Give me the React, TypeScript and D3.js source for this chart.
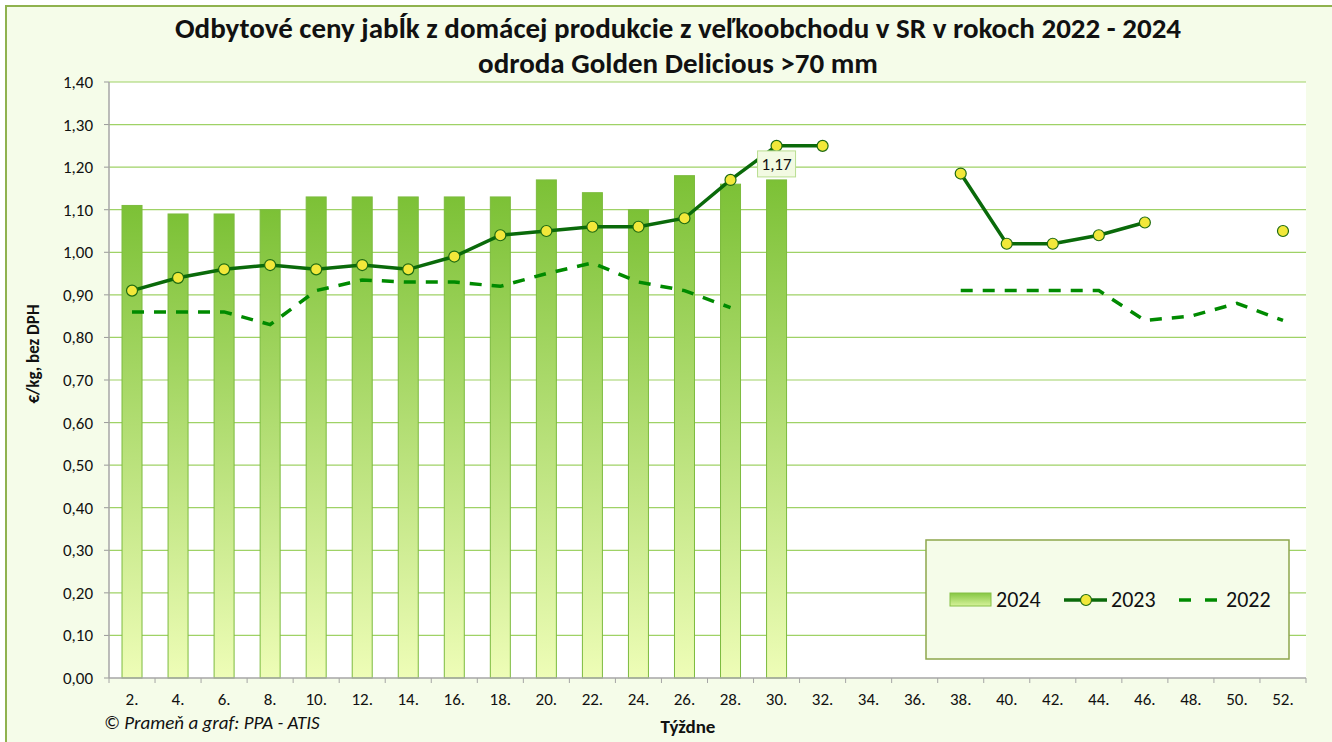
import React from 'react'
import * as d3 from 'd3'

const weeks = d3.range(2, 53, 2).map((w) => `${w}.`)

// 2024 – stĺpce (týždne 2. – 30.)
const values2024: (number | null)[] = [
  1.11, 1.09, 1.09, 1.1, 1.13, 1.13, 1.13, 1.13, 1.13, 1.17, 1.14, 1.1, 1.18, 1.16, 1.17,
  null, null, null, null, null, null, null, null, null, null, null,
]

// 2023 – plná čiara so značkami
const values2023: (number | null)[] = [
  0.91, 0.94, 0.96, 0.97, 0.96, 0.97, 0.96, 0.99, 1.04, 1.05, 1.06, 1.06, 1.08, 1.17, 1.25,
  1.25, null, null, 1.185, 1.02, 1.02, 1.04, 1.07, null, null, 1.05,
]

// 2022 – prerušovaná čiara
const values2022: (number | null)[] = [
  0.86, 0.86, 0.86, 0.83, 0.91, 0.935, 0.93, 0.93, 0.92, 0.95, 0.975, 0.93, 0.91, 0.87, null,
  null, null, null, 0.91, 0.91, 0.91, 0.91, 0.84, 0.85, 0.88, 0.84,
]

const yTicks = d3.range(0, 1.401, 0.1)
const labelWeek = '30.'
const labelValue = 1.17

const W = 1332
const H = 742
const plot = { left: 109, right: 1306, top: 82, bottom: 678 }
const font = "Calibri, Carlito, 'Liberation Sans', Arial, sans-serif"
const fmt = (v: number) => v.toFixed(2).replace('.', ',')

export default function App() {
  const x = d3.scaleBand<string>().domain(weeks).range([plot.left, plot.right]).padding(0)
  const y = d3.scaleLinear().domain([0, 1.4]).range([plot.bottom, plot.top])
  const bw = x.bandwidth()
  const cx = (w: string) => (x(w) as number) + bw / 2
  const barW = 20

  const line = d3
    .line<number | null>()
    .defined((d) => d != null)
    .x((_, i) => cx(weeks[i]))
    .y((d) => y(d as number))

  return (
    <svg
      width={W}
      height={H}
      style={{ position: 'absolute', left: 0, top: 0, fontFamily: font }}
    >
      <defs>
        <linearGradient id="barGrad" x1="0" y1="0" x2="0" y2="1">
          <stop offset="0%" stopColor="#7CC136" />
          <stop offset="100%" stopColor="#EEFDB7" />
        </linearGradient>
        <linearGradient id="legGrad" x1="0" y1="0" x2="0" y2="1">
          <stop offset="0%" stopColor="#86C743" />
          <stop offset="100%" stopColor="#D6F29A" />
        </linearGradient>
      </defs>

      <rect x={0} y={0} width={W} height={H} fill="#fff" />
      <rect x={6} y={6} width={W + 20} height={H + 20} fill="#F5FCE9" stroke="#8FB24E" strokeWidth={2} />

      <text x={678} y={38} textAnchor="middle" fontSize={29} fontWeight="bold" fill="#111">
        Odbytové ceny jabĺk z domácej produkcie z veľkoobchodu v SR v rokoch 2022 - 2024
      </text>
      <text x={678} y={73} textAnchor="middle" fontSize={29} fontWeight="bold" fill="#111">
        odroda Golden Delicious &gt;70 mm
      </text>

      <rect
        x={plot.left}
        y={plot.top}
        width={plot.right - plot.left}
        height={plot.bottom - plot.top}
        fill="#fff"
      />

      {yTicks.map((t) => (
        <g key={t}>
          {t > 0 && (
            <line x1={plot.left} x2={plot.right} y1={y(t)} y2={y(t)} stroke="#9FD266" strokeWidth={1.2} />
          )}
          <line x1={plot.left - 5} x2={plot.left} y1={y(t)} y2={y(t)} stroke="#999" />
          <text x={93} y={y(t) + 6} textAnchor="end" fontSize={17} fill="#111">
            {fmt(t)}
          </text>
        </g>
      ))}

      {values2024.map((v, i) =>
        v == null ? null : (
          <rect
            key={i}
            x={cx(weeks[i]) - barW / 2}
            y={y(v)}
            width={barW}
            height={y(0) - y(v)}
            fill="url(#barGrad)"
            stroke="#7CBB3E"
            strokeWidth={1}
          />
        )
      )}

      <path
        d={line(values2022) || ''}
        fill="none"
        stroke="#008A00"
        strokeWidth={3.5}
        strokeDasharray="12,10"
      />
      <path d={line(values2023) || ''} fill="none" stroke="#0A6A0A" strokeWidth={3.5} />
      {values2023.map((v, i) =>
        v == null ? null : (
          <circle key={i} cx={cx(weeks[i])} cy={y(v)} r={5.5} fill="#F2E83A" stroke="#1E6B12" strokeWidth={1.2} />
        )
      )}

      <g transform={`translate(${cx(labelWeek)}, ${y(labelValue) - 16})`}>
        <rect x={-19} y={-13} width={38} height={26} fill="#F2FAE2" stroke="#B9DE90" strokeWidth={1} />
        <text x={0} y={6} textAnchor="middle" fontSize={17} fill="#111">
          {fmt(labelValue)}
        </text>
      </g>

      <line x1={plot.left} x2={plot.left} y1={plot.top} y2={plot.bottom} stroke="#A6A6A6" strokeWidth={1.5} />
      <line x1={plot.left} x2={plot.right} y1={plot.bottom} y2={plot.bottom} stroke="#A6A6A6" strokeWidth={1.5} />
      {weeks.map((w) => (
        <g key={w}>
          <line x1={x(w) as number} x2={x(w) as number} y1={plot.bottom} y2={plot.bottom + 5} stroke="#A6A6A6" />
          <text x={cx(w)} y={705} textAnchor="middle" fontSize={17} fill="#111">
            {w}
          </text>
        </g>
      ))}
      <line x1={plot.right} x2={plot.right} y1={plot.bottom} y2={plot.bottom + 5} stroke="#A6A6A6" />

      <text
        transform={`translate(39, 354) rotate(-90)`}
        textAnchor="middle"
        fontSize={17}
        fontWeight="bold"
        fill="#111"
      >
        €/kg, bez DPH
      </text>
      <text x={688} y={733} textAnchor="middle" fontSize={19} fontWeight="bold" fill="#111">
        Týždne
      </text>
      <text x={104} y={729} fontSize={19} fontStyle="italic" fill="#111">
        © Prameň a graf: PPA - ATIS
      </text>

      <rect x={926} y={540} width={363} height={119} fill="#F5FCE9" stroke="#8DA64C" strokeWidth={1.5} />
      <rect x={950} y={593} width={41} height={13} fill="url(#legGrad)" stroke="#86C046" />
      <text x={996} y={607} fontSize={22} fill="#111">2024</text>
      <line x1={1064} x2={1107} y1={600} y2={600} stroke="#0A6A0A" strokeWidth={3.5} />
      <circle cx={1086} cy={600} r={5.5} fill="#F2E83A" stroke="#1E6B12" strokeWidth={1.2} />
      <text x={1111} y={607} fontSize={22} fill="#111">2023</text>
      <line x1={1179} x2={1219} y1={600} y2={600} stroke="#008A00" strokeWidth={3.5} strokeDasharray="12,14" />
      <text x={1226} y={607} fontSize={22} fill="#111">2022</text>
    </svg>
  )
}
